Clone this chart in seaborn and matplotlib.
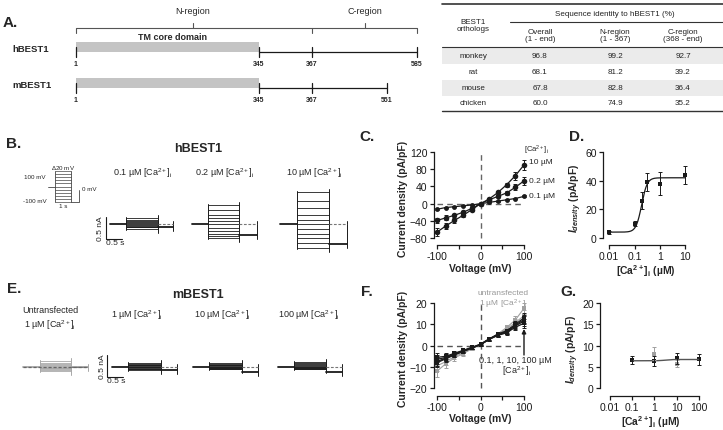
import numpy as np
import pandas as pd
import matplotlib
matplotlib.use('Agg')
import matplotlib.pyplot as plt
import seaborn as sns

# ---------------- data ----------------
residues_h = [1, 345, 367, 585]
residues_m = [1, 345, 367, 551]

orthologs = ['monkey', 'rat', 'mouse', 'chicken']
ident_overall = [96.8, 68.1, 67.8, 60.0]
ident_nreg = [99.2, 81.2, 82.8, 74.9]
ident_creg = [92.7, 39.2, 36.4, 35.2]

voltage = [-100, -80, -60, -40, -20, 0, 20, 40, 60, 80, 100]

# hBEST1 I-V (pA/pF)
h_iv_01 = [-13, -9, -7, -5, -3, 0, 3, 6, 9, 12, 17]
h_iv_02 = [-39, -33, -27, -20, -11, 0, 9, 17, 25, 38, 53]
h_iv_10 = [-66, -52, -39, -27, -14, 0, 11, 26, 44, 65, 90]
h_err_01 = [2, 1.5, 1.5, 1, 1, 1, 1, 1, 1, 1.5, 2]
h_err_02 = [6, 6, 4, 3, 2, 1, 2, 3, 5, 7, 10]
h_err_10 = [9, 7, 5, 4, 3, 1, 3, 4, 5, 9, 12]
h_tail = [-8, -31, -56]

# hBEST1 dose response
h_ca = [0.01, 0.1, 0.2, 0.3, 1, 10]
h_dens = [4, 10, 26, 39, 38, 44]
h_dens_err = [1, 2, 6, 6, 8, 6]
h_hill = dict(bottom=4.0, top=42.0, ec50=0.19, n=4.0)

# mBEST1 I-V (pA/pF)
m_iv_01 = [-7.5, -5.8, -4.2, -2.6, -1.1, 0.4, 2.9, 4.8, 6.0, 8.6, 10.5]
m_iv_1 = [-8.0, -6.2, -4.4, -2.8, -1.2, 0.5, 3.0, 5.0, 6.3, 9.2, 11.5]
m_iv_10 = [-6.5, -5.5, -3.8, -2.4, -0.9, 0.6, 3.1, 5.2, 6.6, 9.6, 12.2]
m_iv_100 = [-5.5, -5.0, -3.6, -2.2, -0.8, 0.7, 3.2, 5.4, 7.0, 10.0, 13.0]
m_err = [2.2, 1.5, 1.0, 0.8, 0.6, 0.5, 0.6, 0.8, 1.0, 1.5, 2.2]
un_iv = [-12.0, -8.5, -5.8, -3.8, -1.5, 0.5, 3.0, 5.5, 8.5, 12.0, 17.5]
un_iv2 = [-9.5, -7.5, -5.2, -3.4, -1.3, 0.5, 3.0, 5.4, 7.8, 10.8, 14.0]
un_err = [2.5, 1.8, 1.2, 0.9, 0.6, 0.5, 0.6, 0.9, 1.2, 1.8, 2.5]
m_tail = [0, -8, -14, -14]

# mBEST1 dose response
m_ca = [0.1, 1, 10, 100]
m_dens = [6.6, 6.4, 7.0, 6.8]
m_dens_err = [1.0, 1.2, 1.3, 1.3]
g_ca = [1, 10]
g_dens = [8.1, 5.8]
g_dens_err = [1.5, 0.8]
m_hill = dict(bottom=6.45, top=6.75, ec50=3.0, n=3.0)

# ---------------- style ----------------
sns.set_theme(style='ticks')
plt.rcParams['font.family'] = ['Liberation Sans', 'DejaVu Sans']
plt.rcParams['mathtext.fontset'] = 'custom'
plt.rcParams['mathtext.rm'] = 'Liberation Sans'
plt.rcParams['mathtext.it'] = 'Liberation Sans:italic'
plt.rcParams['mathtext.bf'] = 'Liberation Sans:bold'
plt.rcParams['mathtext.bfit'] = 'Liberation Sans:italic:bold'
plt.rcParams['mathtext.default'] = 'regular'

CA = r'[Ca$^{2+}$]$_i$'
W, H = 723, 431
fig = plt.figure(figsize=(W / 100, H / 100), dpi=100)
fig.patch.set_facecolor('white')

canvas = fig.add_axes([0, 0, 1, 1])
canvas.set_xlim(0, W)
canvas.set_ylim(H, 0)
canvas.axis('off')


def px_axes(l, t, r, b):
    return fig.add_axes([l / W, 1 - b / H, (r - l) / W, (b - t) / H])


def hill(x, bottom, top, ec50, n):
    x = np.asarray(x, dtype=float)
    return bottom + (top - bottom) / (1 + (ec50 / x) ** n)


def style_axes(ax):
    sns.despine(ax=ax)
    for s in ['left', 'bottom']:
        ax.spines[s].set_linewidth(0.9)
        ax.spines[s].set_color('k')
    ax.tick_params(length=3, width=0.9, labelsize=7.5, pad=1.5, colors='k')
    ax.minorticks_off()
    ax.set_facecolor('none')


def label(x, y, s, size=6.5, **kw):
    canvas.text(x, y, s, fontsize=size, ha=kw.pop('ha', 'center'),
                va=kw.pop('va', 'center'), **kw)


# ---------------- A. schematic ----------------
xpos = {1: 76, 345: 259, 367: 312, 585: 417, 551: 387}
label(10, 23, 'A.', 11, fontweight='bold')
label(193, 12, 'N-region')
label(365, 12, 'C-region')
# brackets
canvas.plot([76, 76, 312, 312], [34, 29, 29, 34], color='#555', lw=0.8)
canvas.plot([312, 417, 417], [29, 29, 34], color='#555', lw=0.8)
canvas.plot([193, 193], [29, 24], color='#555', lw=0.8)
canvas.plot([365, 365], [29, 24], color='#555', lw=0.8)
label(172, 37, 'TM core domain', 6.5, fontweight='bold')

for name, res, yb in [('hBEST1', residues_h, 53), ('mBEST1', residues_m, 89)]:
    label(12, yb - 4, name, 6.8, fontweight='bold', ha='left')
    xs = [xpos[r] for r in res]
    canvas.add_patch(plt.Rectangle((xs[0], yb - 10), xs[1] - xs[0], 10,
                                   color='#c4c4c4', lw=0))
    canvas.plot([xs[1], xs[-1]], [yb, yb], color='k', lw=0.9)
    for r, x in zip(res, xs):
        canvas.plot([x, x], [yb - 5, yb + 5], color='k', lw=0.9)
        label(x, yb + 12, str(r), 5, fontweight='bold')

# ---------------- A. table ----------------
tl, tr = 442, 723
canvas.plot([tl, tr], [5, 5], color='#333', lw=1.2)
canvas.plot([510, tr], [23, 23], color='#333', lw=0.8)
canvas.plot([tl, tr], [48, 48], color='#333', lw=0.8)
canvas.plot([tl, tr], [112, 112], color='#333', lw=1.0)
label(615, 15, 'Sequence identity to hBEST1 (%)', 5.8, color='#222')
label(473, 26, 'BEST1\northologs', 5.8, color='#222', linespacing=1.1)
col_x = [540, 615, 683]
heads = ['Overall\n(1 - end)', 'N-region\n(1 - 367)', 'C-region\n(368 - end)']
for x, h in zip(col_x, heads):
    label(x, 36, h, 5.8, color='#222', linespacing=1.1)
row_y = [57, 73, 89, 104]
for i, (sp, a, b, c) in enumerate(zip(orthologs, ident_overall, ident_nreg, ident_creg)):
    y = row_y[i]
    if i % 2 == 0:
        canvas.add_patch(plt.Rectangle((tl, y - 8), tr - tl, 16, color='#ebebeb', lw=0))
    label(473, y, sp, 5.8, color='#222')
    for x, v in zip(col_x, [a, b, c]):
        label(x, y, f'{v:.1f}', 5.8, color='#222')

# ---------------- traces ----------------
SCALE = 0.36  # px per pA/pF


def draw_trace(x0, xs, xe, xt, y0, currents, tail, color='k', dashed_all=False):
    lv = y0 - SCALE * np.asarray(currents)
    canvas.plot([x0, xs], [y0, y0], color=color, lw=1.3)
    canvas.hlines(lv, xs, xe, color=color, lw=0.6)
    top, bot = lv.min(), lv.max()
    canvas.plot([xs, xs], [top - 1, bot + 1], color=color, lw=0.7)
    canvas.plot([xe, xe], [top - 3, bot + 4], color=color, lw=0.7)
    yt = y0 - SCALE * tail
    canvas.plot([xe, xt], [yt, yt], color=color, lw=1.3)
    canvas.plot([xt, xt], [y0 - 3, yt + 4], color=color, lw=0.7)
    canvas.plot([xe, xt], [y0, y0], color='#777', lw=0.8, ls=(0, (2.5, 1.5)))
    if dashed_all:
        canvas.plot([x0, xt], [y0, y0], color='#666', lw=0.9, ls=(0, (2.5, 1.5)))


def scale_bar(x, y_bottom):
    canvas.plot([x, x, x + 16], [y_bottom - 22, y_bottom, y_bottom], color='k', lw=0.8)
    label(x - 5, y_bottom - 11, '0.5 nA', 6, rotation=90)
    label(x + 9, y_bottom + 4, '0.5 s', 6)


# B. hBEST1
label(14, 144, 'B.', 11, fontweight='bold')
label(198, 149, 'hBEST1', 9, fontweight='bold')
# voltage protocol
canvas.hlines(np.linspace(172, 203, 11), 55, 71, color='#444', lw=0.5)
canvas.plot([55, 55], [172, 203], color='#444', lw=0.6)
canvas.plot([71, 71], [172, 203], color='#444', lw=0.6)
canvas.plot([48, 55], [187.5, 187.5], color='#444', lw=0.6)
canvas.plot([71, 79, 79], [203, 203, 191], color='#444', lw=0.6)
label(63, 168, r'$\Delta$20 mV', 4.5)
label(46, 178, '100 mV', 4.5, ha='right')
label(47, 202, '-100 mV', 4.5, ha='right')
label(63, 207, '1 s', 4.5)
label(82, 190, '0 mV', 4.5, ha='left')

h_traces = [h_iv_01, h_iv_02, h_iv_10]
h_names = ['0.1 µM ' + CA, '0.2 µM ' + CA, '10 µM ' + CA]
h_layout = [(110, 126, 158, 173, 143), (192, 208, 239, 257, 225), (280, 297, 329, 347, 314)]
for cur, tail, nm, (x0, xs, xe, xt, xl) in zip(h_traces, h_tail, h_names, h_layout):
    draw_trace(x0, xs, xe, xt, 225, cur, tail)
    label(xl, 173, nm, 6.5)
scale_bar(106, 240)

# E. mBEST1
label(14, 289, 'E.', 11, fontweight='bold')
label(198, 295, 'mBEST1', 9, fontweight='bold')
m_traces = [un_iv, m_iv_1, m_iv_10, m_iv_100]
m_names = ['Untransfected\n1 µM ' + CA, '1 µM ' + CA, '10 µM ' + CA, '100 µM ' + CA]
m_layout = [(23, 40, 71, 88, 50), (112, 128, 161, 177, 137), (193, 209, 242, 258, 222),
            (278, 294, 326, 342, 309)]
for i, (cur, tail, nm, (x0, xs, xe, xt, xl)) in enumerate(zip(m_traces, m_tail, m_names, m_layout)):
    col = '#a8a8a8' if i == 0 else 'k'
    draw_trace(x0, xs, xe, xt, 368, cur, tail, color=col, dashed_all=(i == 0))
    label(xl, 319 if i == 0 else 315, nm, 6.5, linespacing=1.3)
scale_bar(107, 378)

# ---------------- C. hBEST1 I-V ----------------
label(367, 137, 'C.', 11, fontweight='bold')
axC = px_axes(433.5, 151.3, 527.5, 246)
style_axes(axC)
axC.plot([-100, 100], [0, 0], color='#666', lw=1, ls=(0, (4, 3)))
axC.plot([0, 0], [-80, 120], color='#666', lw=1, ls=(0, (4, 3)))
for vals, err, ms in [(h_iv_01, h_err_01, 3.5), (h_iv_02, h_err_02, 4), (h_iv_10, h_err_10, 4)]:
    sns.lineplot(x=voltage, y=vals, ax=axC, color='k', lw=0.9, marker='o',
                 markersize=ms, markeredgewidth=0, legend=False)
    axC.errorbar(voltage, vals, yerr=err, fmt='none', ecolor='k', elinewidth=0.7,
                 capsize=1.5, capthick=0.7, clip_on=False)
axC.set_xlim(-108, 108)
axC.set_ylim(-96, 124)
axC.spines['left'].set_bounds(-80, 120)
axC.spines['bottom'].set_bounds(-100, 100)
axC.set_yticks([-80, -40, 0, 40, 80, 120])
axC.set_xticks([-100, -50, 0, 50, 100])
axC.set_xticklabels(['-100', '', '0', '', '100'])
axC.set_xlabel('Voltage (mV)', fontsize=7.5, fontweight='bold', labelpad=1)
axC.set_ylabel('Current density (pA/pF)', fontsize=7.5, fontweight='bold', labelpad=1)
label(537, 150, CA, 5.5)
for y, t in [(163, '10 µM'), (182, '0.2 µM'), (197, '0.1 µM')]:
    label(529, y, t, 6, ha='left')

# ---------------- D. hBEST1 dose response ----------------
label(577, 137, 'D.', 11, fontweight='bold')
axD = px_axes(603, 150.9, 688, 246)
style_axes(axD)
xfit = np.logspace(-2, 1, 200)
sns.lineplot(x=xfit, y=hill(xfit, **h_hill), ax=axD, color='k', lw=0.9)
sns.scatterplot(x=h_ca, y=h_dens, ax=axD, color='k', marker='s', s=9, linewidth=0)
axD.errorbar(h_ca, h_dens, yerr=h_dens_err, fmt='none', ecolor='k', elinewidth=0.7,
             capsize=1.5, capthick=0.7)
axD.set_xscale('log')
axD.set_xlim(10 ** -2.237, 10 ** 1.1)
axD.set_ylim(-5, 61.5)
axD.spines['left'].set_bounds(0, 60)
axD.spines['bottom'].set_bounds(0.01, 10)
axD.set_xticks([0.01, 0.1, 1, 10])
axD.set_xticklabels(['0.01', '0.1', '1', '10'])
axD.set_yticks([0, 20, 40, 60])
axD.minorticks_off()
axD.set_xlabel(CA + ' (µM)', fontsize=7.5, fontweight='bold', labelpad=1)
axD.set_ylabel(r'$\mathbfit{I}_{\mathbfit{density}}$ (pA/pF)', fontsize=7.5,
               fontweight='bold', labelpad=1)

# ---------------- F. mBEST1 I-V ----------------
label(367, 292, 'F.', 11, fontweight='bold')
axF = px_axes(433.5, 301.8, 527.5, 397)
style_axes(axF)
axF.plot([-100, 100], [0, 0], color='#555', lw=1, ls=(0, (4, 3)))
axF.plot([0, 0], [-20, 20], color='#555', lw=1, ls=(0, (4, 3)))
for vals in [un_iv, un_iv2]:
    sns.lineplot(x=voltage, y=vals, ax=axF, color='#a0a0a0', lw=0.8, marker='s',
                 markersize=3, markeredgewidth=0, legend=False)
    axF.errorbar(voltage, vals, yerr=un_err, fmt='none', ecolor='#a0a0a0', elinewidth=0.7,
                 capsize=1.3, capthick=0.7, clip_on=False)
for vals in [m_iv_01, m_iv_1, m_iv_10, m_iv_100]:
    sns.lineplot(x=voltage, y=vals, ax=axF, color='k', lw=0.9, marker='s',
                 markersize=3.2, markeredgewidth=0, legend=False)
    axF.errorbar(voltage, vals, yerr=m_err, fmt='none', ecolor='k', elinewidth=0.7,
                 capsize=1.3, capthick=0.7, clip_on=False)
axF.set_xlim(-108, 108)
axF.set_ylim(-23.6, 21)
axF.spines['left'].set_bounds(-20, 20)
axF.spines['bottom'].set_bounds(-100, 100)
axF.set_yticks([-20, -10, 0, 10, 20])
axF.set_xticks([-100, -50, 0, 50, 100])
axF.set_xticklabels(['-100', '', '0', '', '100'])
axF.set_xlabel('Voltage (mV)', fontsize=7.5, fontweight='bold', labelpad=0.5)
axF.set_ylabel('Current density (pA/pF)', fontsize=7.5, fontweight='bold', labelpad=1)
label(503, 294, 'untransfected', 6, color='#999')
label(503, 304, '1 µM ' + CA, 6, color='#999')
label(515, 361, '0.1, 1, 10, 100 µM', 6.5)
label(517, 371, CA, 6.5)
canvas.annotate('', xy=(524, 330), xytext=(524, 356),
                arrowprops=dict(arrowstyle='-|>', color='k', lw=1, mutation_scale=6,
                                shrinkA=0, shrinkB=0))

# ---------------- G. mBEST1 dose response ----------------
label(568, 292, 'G.', 11, fontweight='bold')
axG = px_axes(600, 301.8, 701, 397)
style_axes(axG)
xfit2 = np.logspace(-1, 2, 200)
sns.lineplot(x=xfit2, y=hill(xfit2, **m_hill), ax=axG, color='#555', lw=1)
axG.errorbar(g_ca, g_dens, yerr=g_dens_err, fmt='none', ecolor='#a0a0a0', elinewidth=0.7,
             capsize=1.5, capthick=0.7)
sns.scatterplot(x=g_ca, y=g_dens, ax=axG, color='#a0a0a0', marker='s', s=8, linewidth=0)
axG.errorbar(m_ca, m_dens, yerr=m_dens_err, fmt='none', ecolor='k', elinewidth=0.7,
             capsize=1.5, capthick=0.7)
sns.scatterplot(x=m_ca, y=m_dens, ax=axG, color='k', marker='s', s=9, linewidth=0)
axG.set_xscale('log')
axG.set_xlim(10 ** -2.45, 10 ** 2.1)
axG.set_ylim(-1.8, 20.5)
axG.spines['left'].set_bounds(0, 20)
axG.spines['bottom'].set_bounds(0.01, 100)
axG.set_xticks([0.01, 0.1, 1, 10, 100])
axG.set_xticklabels(['0.01', '0.1', '1', '10', '100'])
axG.set_yticks([0, 5, 10, 15, 20])
axG.minorticks_off()
axG.set_xlabel(CA + ' (µM)', fontsize=7.5, fontweight='bold', labelpad=0.5)
axG.set_ylabel(r'$\mathbfit{I}_{\mathbfit{density}}$ (pA/pF)', fontsize=7.5,
               fontweight='bold', labelpad=1)

fig.savefig('out.png', dpi=100, facecolor='white')
